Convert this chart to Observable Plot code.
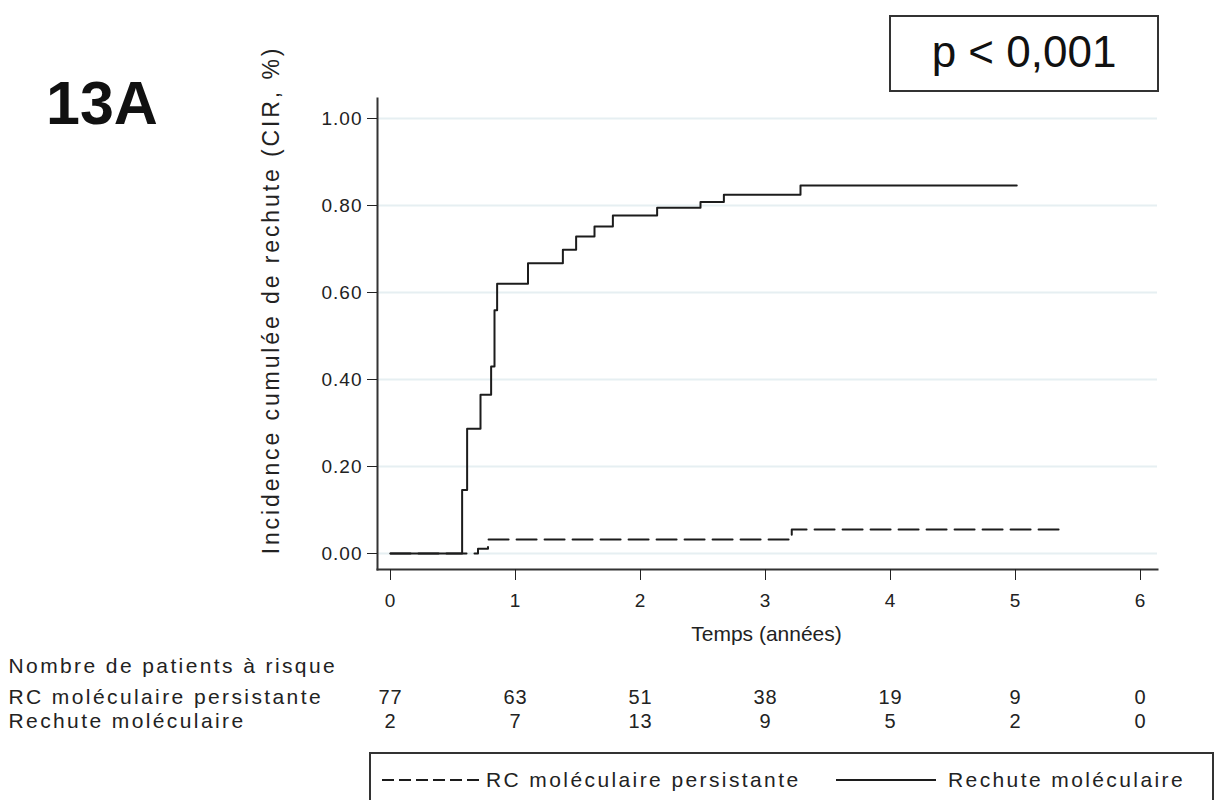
<!DOCTYPE html>
<html>
<head>
<meta charset="utf-8">
<script src="https://cdn.jsdelivr.net/npm/d3@7"></script>
<script src="https://cdn.jsdelivr.net/npm/@observablehq/plot@0.6"></script>
<style>
  body { margin: 0; background: #fff; }
  #wrap { position: relative; width: 1216px; height: 800px; overflow: hidden;
          font-family: "Liberation Sans", Arial, sans-serif; color: #222; }
  #panel { position: absolute; left: 46px; top: 73px; font: bold 61px/61px "Liberation Sans", Arial, sans-serif; color: #111; }
  #pbox { position: absolute; left: 889px; top: 15px; width: 270px; height: 77px; box-sizing: border-box;
          border: 2px solid #333; font: 44px "Liberation Sans", Arial, sans-serif; color: #111;
          display: flex; align-items: center; justify-content: center; padding-bottom: 4px; }
  #legend { position: absolute; left: 369px; top: 752px; width: 845px; height: 70px; box-sizing: border-box;
            border: 2px solid #333; font-size: 21px; letter-spacing: 2.4px; }
  #legend .item { position: absolute; top: 14px; display: flex; align-items: center; }
  #legend svg { display: block; }
  #chart { position: absolute; left: 0; top: 0; }
  /* widely spaced lettering of the annotation texts */
  #chart g[aria-description="spaced"] text { letter-spacing: 2.4px; }
  #chart g[aria-description="ylabel"] text { letter-spacing: 2.9px; }
  #chart g[aria-description="counts"] text { letter-spacing: 1px; }
  #chart g[aria-label="y-axis tick label"] text,
  #chart g[aria-label="x-axis tick label"] text { letter-spacing: 1px; }
</style>
</head>
<body>
<div id="wrap">
  <div id="chart"></div>
  <div id="panel">13A</div>
  <div id="pbox">p &lt; 0,001</div>
  <div id="legend"></div>
</div>
<script>
// Cumulative incidence of relapse, step times (years) and values
const relapseTimes = [0, 0.573, 0.613, 0.72, 0.805, 0.832, 0.853, 1.10, 1.379, 1.485, 1.632, 1.779, 2.133, 2.48, 2.667, 3.28, 5.01];
const relapseCIR   = [0, 0.146, 0.287, 0.365, 0.43, 0.559, 0.62, 0.667, 0.698, 0.729, 0.752, 0.777, 0.795, 0.808, 0.825, 0.846, 0.846];

const persistTimes = [0, 0.70, 0.78, 3.21, 5.39];
const persistCIR   = [0, 0.011, 0.032, 0.055, 0.055];

// Numbers at risk
const riskTimes      = [0, 1, 2, 3, 4, 5, 6];
const riskPersistent = [77, 63, 51, 38, 19, 9, 0];
const riskRelapse    = [2, 7, 13, 9, 5, 2, 0];

const groupPersist = "RC moléculaire persistante";
const groupRelapse = "Rechute moléculaire";
const yTicks = [0, 0.2, 0.4, 0.6, 0.8, 1.0];
const xTicks = [0, 1, 2, 3, 4, 5, 6];

const relapse = relapseTimes.map((t, i) => ({t, v: relapseCIR[i]}));
const persist = persistTimes.map((t, i) => ({t, v: persistCIR[i]}));
const ink = "#1c1c1c";
const textInk = "#222";

const chart = Plot.plot({
  width: 1216,
  height: 800,
  marginLeft: 377,
  marginTop: 98,
  marginRight: 59,
  marginBottom: 231,
  style: {fontFamily: '"Liberation Sans", Arial, sans-serif', fontSize: "19px", color: textInk, background: "transparent"},
  x: {domain: [0, 6], range: [390, 1140]},
  y: {domain: [0, 1], range: [553, 118]},
  marks: [
    Plot.gridY(yTicks, {stroke: "#e6eff2", strokeOpacity: 1, strokeWidth: 2}),
    Plot.line(persist, {x: "t", y: "v", curve: "step-after", stroke: ink, strokeWidth: 2, strokeDasharray: "20,8"}),
    Plot.line(relapse, {x: "t", y: "v", curve: "step-after", stroke: ink, strokeWidth: 2}),
    Plot.frame({anchor: "left", stroke: "#333", strokeWidth: 2}),
    Plot.frame({anchor: "bottom", stroke: "#333", strokeWidth: 2}),
    Plot.axisY(yTicks, {tickFormat: d3.format(".2f"), tickSize: 10, tickPadding: 5, label: null, fontSize: 19}),
    Plot.axisX(xTicks, {tickFormat: d3.format("d"), tickSize: 11, tickPadding: 13, label: null, fontSize: 19}),
    Plot.text(["Incidence cumulée de rechute (CIR, %)"], {frameAnchor: "left", textAnchor: "middle", rotate: -90, dx: -106, dy: -34, fontSize: 23, fill: textInk, ariaDescription: "ylabel"}),
    Plot.text(["Temps (années)"], {frameAnchor: "bottom", dx: -1, dy: 71, fontSize: 21, fill: textInk}),
    Plot.text(["Nombre de patients à risque"], {frameAnchor: "bottom-left", textAnchor: "start", dx: -369, dy: 103, fontSize: 21, fill: textInk, ariaDescription: "spaced"}),
    Plot.text([groupPersist], {frameAnchor: "bottom-left", textAnchor: "start", dx: -369, dy: 134, fontSize: 21, fill: textInk, ariaDescription: "spaced"}),
    Plot.text([groupRelapse], {frameAnchor: "bottom-left", textAnchor: "start", dx: -369, dy: 158, fontSize: 21, fill: textInk, ariaDescription: "spaced"}),
    Plot.text(riskTimes, {x: d => d, text: (d, i) => riskPersistent[i], frameAnchor: "bottom", dy: 134, fontSize: 20, fill: textInk, ariaDescription: "counts"}),
    Plot.text(riskTimes, {x: d => d, text: (d, i) => riskRelapse[i], frameAnchor: "bottom", dy: 158, fontSize: 20, fill: textInk, ariaDescription: "counts"})
  ]
});
document.getElementById("chart").appendChild(chart);

// Legend: line-style sample + group name
const legend = document.getElementById("legend");
const items = [
  {name: groupPersist, dash: "12,5", left: 11, w: 104, gap: 2},
  {name: groupRelapse, dash: null, left: 465, w: 112, gap: 12}
];
const ns = "http://www.w3.org/2000/svg";
for (const it of items) {
  const div = document.createElement("div");
  div.className = "item";
  div.style.left = it.left + "px";
  const svg = document.createElementNS(ns, "svg");
  svg.setAttribute("width", it.w);
  svg.setAttribute("height", 20);
  const ln = document.createElementNS(ns, "line");
  ln.setAttribute("x1", 0); ln.setAttribute("x2", it.w - it.gap);
  ln.setAttribute("y1", 10); ln.setAttribute("y2", 10);
  ln.setAttribute("stroke", ink); ln.setAttribute("stroke-width", 2);
  if (it.dash) ln.setAttribute("stroke-dasharray", it.dash);
  svg.appendChild(ln);
  const span = document.createElement("span");
  span.textContent = it.name;
  div.appendChild(svg);
  div.appendChild(span);
  legend.appendChild(div);
}
</script>
</body>
</html>
